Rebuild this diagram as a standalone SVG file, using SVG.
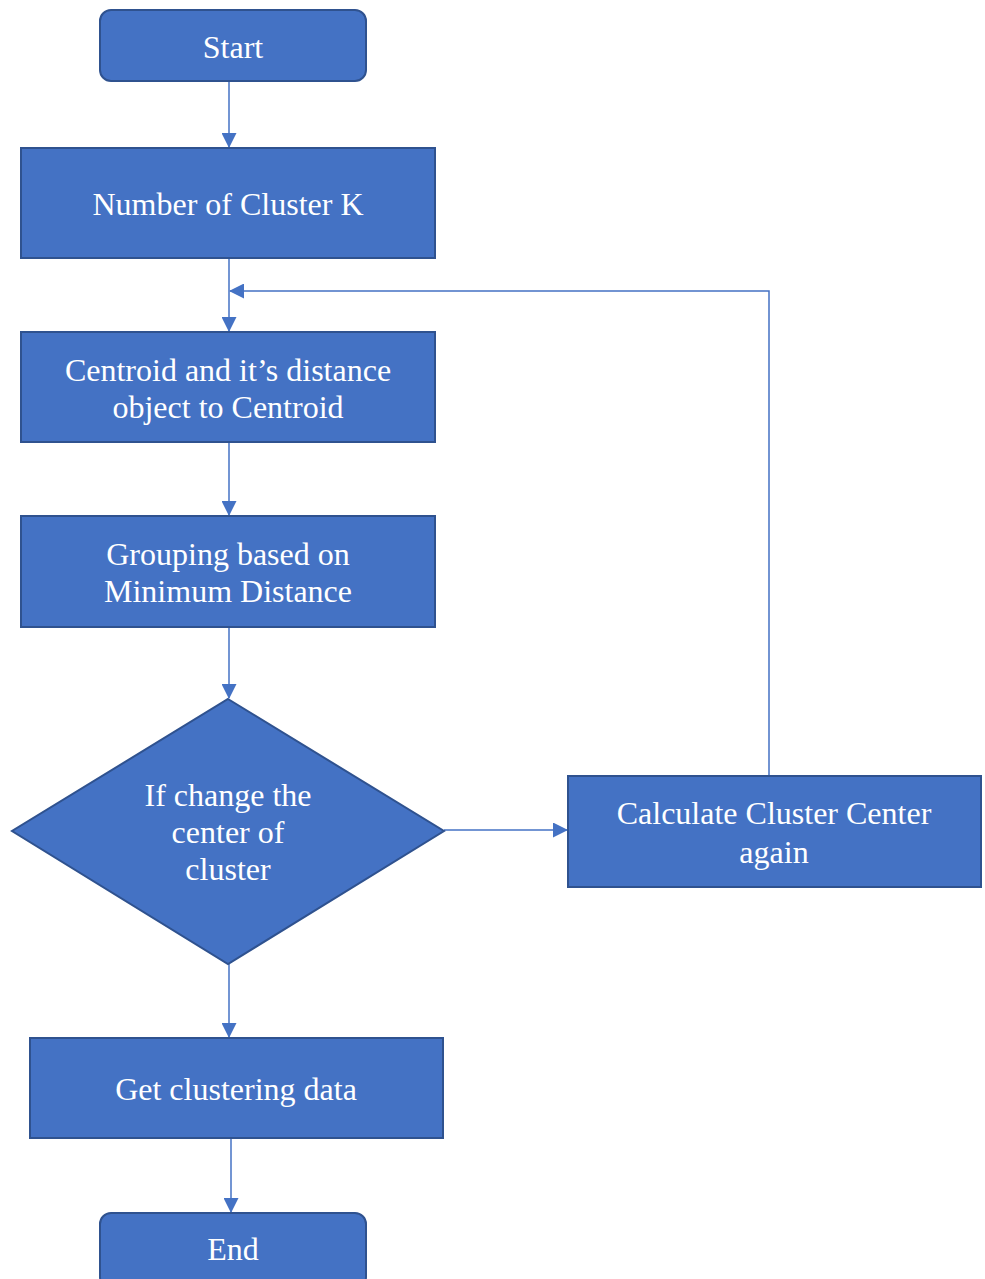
<svg xmlns="http://www.w3.org/2000/svg" width="985" height="1279" viewBox="0 0 985 1279">
<style>
.n{fill:#4472C4;stroke:#2F528F;stroke-width:2}
.t{font-family:'Liberation Serif','Times New Roman','DejaVu Serif',serif;font-size:32px;fill:#FFFFFF;text-anchor:middle}
.c{fill:none;stroke:#4472C4;stroke-width:1.5}
</style>
<defs>
<marker id="a" markerWidth="15" markerHeight="15" refX="14" refY="7.5" orient="auto" markerUnits="userSpaceOnUse" viewBox="0 0 15 15">
<path d="M0,0 L15,7.5 L0,15 Z" fill="#4472C4"/>
</marker>
</defs>
<rect width="985" height="1279" fill="#FFFFFF"/>
<g id="connectors">
<line class="c" x1="229" y1="81" x2="229" y2="147" marker-end="url(#a)"/>
<line class="c" x1="229" y1="258" x2="229" y2="331" marker-end="url(#a)"/>
<polyline class="c" points="769,776 769,291 230,291" marker-end="url(#a)"/>
<line class="c" x1="229" y1="442" x2="229" y2="515" marker-end="url(#a)"/>
<line class="c" x1="229" y1="627" x2="229" y2="698" marker-end="url(#a)"/>
<line class="c" x1="444" y1="830" x2="567" y2="830" marker-end="url(#a)"/>
<line class="c" x1="229" y1="964" x2="229" y2="1037" marker-end="url(#a)"/>
<line class="c" x1="231" y1="1138" x2="231" y2="1212" marker-end="url(#a)"/>
</g>
<g id="start">
<rect class="n" x="100" y="10" width="266" height="71" rx="11"/>
<text class="t" x="233" y="58">Start</text>
</g>
<g id="numk">
<rect class="n" x="21" y="148" width="414" height="110"/>
<text class="t" x="228" y="215">Number of Cluster K</text>
</g>
<g id="centroid">
<rect class="n" x="21" y="332" width="414" height="110"/>
<text class="t" x="228" y="381">Centroid and it’s distance</text>
<text class="t" x="228" y="418">object to Centroid</text>
</g>
<g id="grouping">
<rect class="n" x="21" y="516" width="414" height="111"/>
<text class="t" x="228" y="565">Grouping based on</text>
<text class="t" x="228" y="602">Minimum Distance</text>
</g>
<g id="decision">
<polygon class="n" points="228,699 444,831 228,964 12,831"/>
<text class="t" x="228" y="806">If change the</text>
<text class="t" x="228" y="843">center of</text>
<text class="t" x="228" y="880">cluster</text>
</g>
<g id="recalc">
<rect class="n" x="568" y="776" width="413" height="111"/>
<text class="t" x="774" y="824">Calculate Cluster Center</text>
<text class="t" x="774" y="863">again</text>
</g>
<g id="getdata">
<rect class="n" x="30" y="1038" width="413" height="100"/>
<text class="t" x="236" y="1100">Get clustering data</text>
</g>
<g id="end">
<rect class="n" x="100" y="1213" width="266" height="75" rx="11"/>
<text class="t" x="233" y="1260">End</text>
</g>
</svg>
